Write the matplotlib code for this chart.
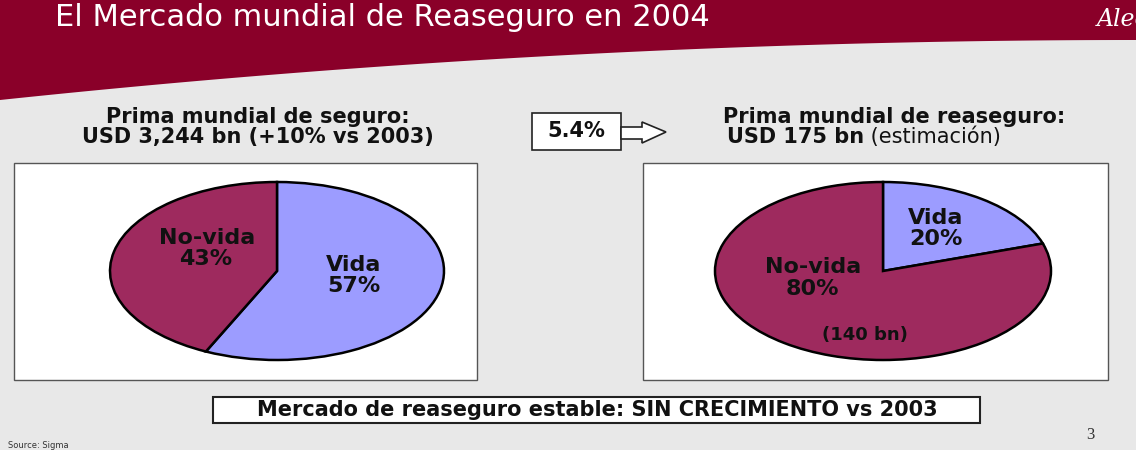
import numpy as np
import matplotlib.pyplot as plt
from matplotlib.patches import Rectangle, Polygon

# datos
seguro_labels = ["Vida", "No-vida"]
seguro_pct = [57, 43]
reaseguro_labels = ["Vida", "No-vida"]
reaseguro_pct = [20, 80]
reaseguro_total = 175      # USD bn
seguro_total = "3,244"     # USD bn
crecimiento = "+10%"
ratio = "5.4%"

col_vida = "#9C9CFF"
col_novida = "#9E2A5E"
granate = "#8A0029"
fondo = "#E8E8E8"

W, H = 1136, 450
fig = plt.figure(figsize=(W / 100, H / 100), dpi=100)
fig.patch.set_facecolor(fondo)


def capa(z):
    # eje en pixeles, origen arriba a la izquierda
    ax = fig.add_axes([0, 0, 1, 1], zorder=z)
    ax.set_xlim(0, W)
    ax.set_ylim(H, 0)
    ax.axis("off")
    ax.patch.set_alpha(0)
    return ax


bg = capa(0)

# banda superior curva
xs = np.linspace(0, W, 200)
ys = 40 + 60 * (1 - xs / W) ** 2
banda = np.vstack([np.column_stack([xs, ys]), [[W, 0], [0, 0]]])
bg.add_patch(Polygon(banda, closed=True, fc=granate, ec="none"))
bg.text(55, 18, "El Mercado mundial de Reaseguro en 2004", color="white",
        fontsize=22, ha="left", va="center", family="DejaVu Sans")
bg.text(1097, 19, "Aleo", color="white", fontsize=17, style="italic",
        family="DejaVu Serif", ha="left", va="center")

# cabeceras
bold = dict(family="DejaVu Sans", weight="bold", fontsize=15, color="#111111")
bg.text(258, 117, "Prima mundial de seguro:", ha="center", va="center", **bold)
bg.text(258, 137, f"USD {seguro_total} bn ({crecimiento} vs 2003)", ha="center", va="center", **bold)
bg.text(894, 117, "Prima mundial de reaseguro:", ha="center", va="center", **bold)
t1 = bg.text(727, 147, f"USD {reaseguro_total} bn", ha="left", va="bottom", **bold)
bg.annotate(" (estimación)", xy=(1, 0), xycoords=t1, ha="left", va="bottom",
            family="DejaVu Sans", fontsize=15, color="#111111")

# caja 5.4% y flecha
bg.add_patch(Rectangle((532, 113), 89, 37, fc="white", ec="#222222", lw=1.2))
bg.text(576, 131, ratio, ha="center", va="center", **bold)
flecha = [(621, 127), (642, 127), (642, 122), (666, 132), (642, 143), (642, 139), (621, 139)]
bg.add_patch(Polygon(flecha, closed=True, fc="white", ec="#222222", lw=1.2))

# paneles blancos
bg.add_patch(Rectangle((14, 163), 463, 217, fc="white", ec="#555555", lw=1))
bg.add_patch(Rectangle((643, 163), 465, 217, fc="white", ec="#555555", lw=1))


def tarta(cx, cy, rx, ry, valores):
    m = 1.03
    ax = fig.add_axes([(cx - rx * m) / W, (H - cy - ry * m) / H,
                       2 * rx * m / W, 2 * ry * m / H], zorder=2)
    ax.pie(valores, colors=[col_vida, col_novida], startangle=90, counterclock=False,
           wedgeprops=dict(edgecolor="black", linewidth=1.8))
    ax.set_aspect("auto")
    ax.set_xlim(-m, m)
    ax.set_ylim(-m, m)
    ax.axis("off")
    return ax


tarta(277, 271, 167, 89, seguro_pct)
tarta(883, 271, 168, 89, reaseguro_pct)

# etiquetas encima de las tartas
top = capa(3)
lab = dict(family="DejaVu Sans", weight="bold", fontsize=16, color="#111111",
           ha="center", va="center")
top.text(207, 238, seguro_labels[1], **lab)
top.text(206, 259, f"{seguro_pct[1]}%", **lab)
top.text(354, 265, seguro_labels[0], **lab)
top.text(354, 286, f"{seguro_pct[0]}%", **lab)

top.text(936, 218, reaseguro_labels[0], **lab)
top.text(936, 239, f"{reaseguro_pct[0]}%", **lab)
top.text(813, 267, reaseguro_labels[1], **lab)
top.text(812, 289, f"{reaseguro_pct[1]}%", **lab)
novida_bn = reaseguro_total * reaseguro_pct[1] / 100
top.text(865, 335, f"({novida_bn:.0f} bn)", family="DejaVu Sans", weight="bold",
         fontsize=13, color="#111111", ha="center", va="center")

# pie de pagina
bg.add_patch(Rectangle((213, 397), 767, 26, fc="white", ec="#222222", lw=1.5))
bg.text(597, 410, "Mercado de reaseguro estable: SIN CRECIMIENTO vs 2003",
        family="DejaVu Sans", weight="bold", fontsize=15, color="#111111",
        ha="center", va="center")
bg.text(1090, 435, "3", family="Liberation Serif", fontsize=12, color="#333333",
        ha="center", va="center")
bg.text(8, 446, "Source: Sigma", family="DejaVu Sans", fontsize=6, color="#333333",
        ha="left", va="center")

fig.savefig("out.png", dpi=100, facecolor=fondo)
